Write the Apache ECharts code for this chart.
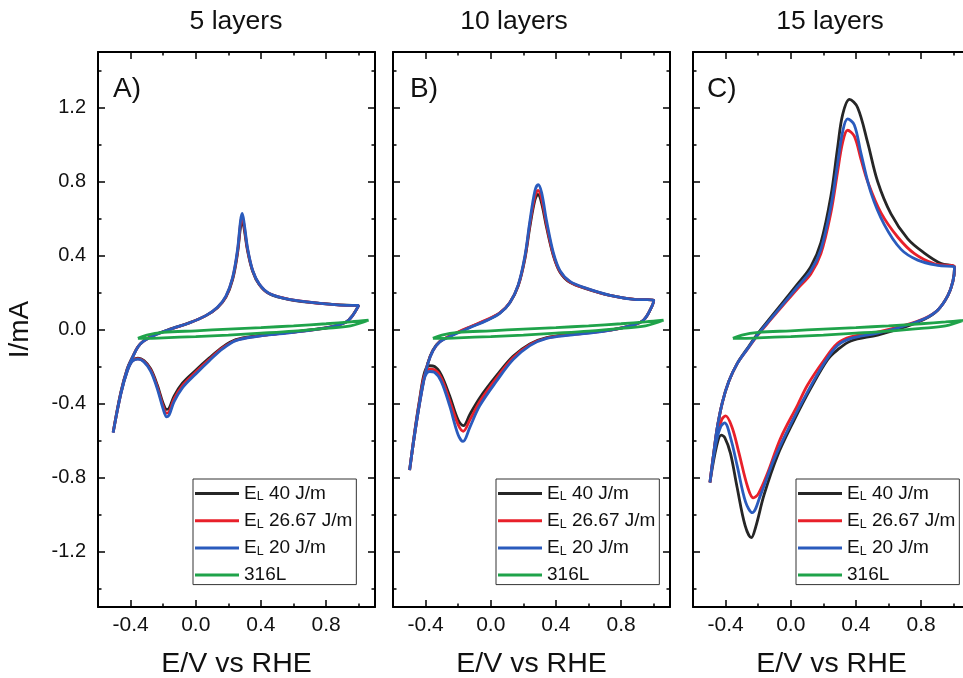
<!DOCTYPE html>
<html>
<head>
<meta charset="utf-8">
<script src="https://cdn.jsdelivr.net/npm/echarts@6/dist/echarts.min.js"></script>
<style>
  html, body { margin: 0; padding: 0; background: #fff; }
  #chart { width: 963px; height: 678px; }
</style>
</head>
<body>
<div id="chart"></div>
<script>
// ---- data ----
const panelTitles = ['5 layers', '10 layers', '15 layers'];
const panelLetters = ['A)', 'B)', 'C)'];
const seriesNames = ['E_L 40 J/m', 'E_L 26.67 J/m', 'E_L 20 J/m', '316L'];
const xMajorTicks = [-0.4, 0.0, 0.4, 0.8];
const xMinorTicks = [-0.2, 0.2, 0.6, 1.0];
const yMajorTicks = [-1.2, -0.8, -0.4, 0.0, 0.4, 0.8, 1.2];
const yMinorTicks = [-1.4, -1.0, -0.6, -0.2, 0.2, 0.6, 1.0, 1.4];

// 5 layers
const a40 = [[-0.507,-0.555],[-0.46,-0.34],[-0.42,-0.21],[-0.39,-0.152],[-0.355,-0.093],[-0.318,-0.06],[-0.25,-0.028],[-0.144,0.006],[-0.041,0.036],[0.062,0.075],[0.133,0.118],[0.185,0.175],[0.226,0.27],[0.256,0.41],[0.275,0.555],[0.285,0.585],[0.297,0.545],[0.318,0.425],[0.349,0.315],[0.39,0.242],[0.451,0.193],[0.574,0.162],[0.779,0.14],[0.96,0.13],[1.0,0.13],[0.964,0.078],[0.923,0.041],[0.82,0.013],[0.574,-0.016],[0.369,-0.035],[0.246,-0.055],[0.164,-0.095],[0.082,-0.155],[0.0,-0.22],[-0.082,-0.29],[-0.133,-0.36],[-0.163,-0.425],[-0.178,-0.432],[-0.2,-0.4],[-0.236,-0.3],[-0.277,-0.212],[-0.318,-0.168],[-0.355,-0.155],[-0.39,-0.168],[-0.42,-0.22],[-0.46,-0.345],[-0.507,-0.555]];
const a26 = [[-0.507,-0.557],[-0.46,-0.343],[-0.42,-0.213],[-0.39,-0.154],[-0.355,-0.094],[-0.318,-0.061],[-0.25,-0.029],[-0.144,0.005],[-0.041,0.035],[0.062,0.075],[0.133,0.119],[0.185,0.178],[0.226,0.276],[0.256,0.42],[0.275,0.575],[0.285,0.608],[0.297,0.56],[0.318,0.432],[0.349,0.318],[0.39,0.244],[0.451,0.194],[0.574,0.163],[0.779,0.14],[0.96,0.13],[1.0,0.13],[0.964,0.077],[0.923,0.04],[0.82,0.012],[0.574,-0.017],[0.369,-0.037],[0.246,-0.058],[0.164,-0.1],[0.082,-0.163],[0.0,-0.23],[-0.082,-0.303],[-0.133,-0.375],[-0.164,-0.445],[-0.179,-0.452],[-0.2,-0.415],[-0.236,-0.31],[-0.277,-0.218],[-0.318,-0.172],[-0.355,-0.158],[-0.39,-0.17],[-0.42,-0.222],[-0.46,-0.347],[-0.507,-0.557]];
const a20 = [[-0.507,-0.558],[-0.46,-0.345],[-0.42,-0.215],[-0.39,-0.155],[-0.355,-0.095],[-0.318,-0.062],[-0.25,-0.03],[-0.144,0.005],[-0.041,0.035],[0.062,0.075],[0.133,0.12],[0.185,0.18],[0.226,0.28],[0.256,0.43],[0.275,0.59],[0.285,0.628],[0.297,0.575],[0.318,0.44],[0.349,0.32],[0.39,0.245],[0.451,0.195],[0.574,0.163],[0.779,0.14],[0.96,0.13],[1.0,0.13],[0.964,0.077],[0.923,0.04],[0.82,0.012],[0.574,-0.018],[0.369,-0.038],[0.246,-0.06],[0.164,-0.105],[0.082,-0.17],[0.0,-0.24],[-0.082,-0.315],[-0.133,-0.39],[-0.163,-0.462],[-0.178,-0.472],[-0.2,-0.43],[-0.236,-0.32],[-0.277,-0.225],[-0.318,-0.175],[-0.355,-0.16],[-0.39,-0.172],[-0.42,-0.225],[-0.46,-0.35],[-0.507,-0.558]];

// 10 layers
const b40 = [[-0.498,-0.76],[-0.457,-0.505],[-0.416,-0.292],[-0.386,-0.18],[-0.355,-0.112],[-0.314,-0.066],[-0.232,-0.028],[-0.129,0.012],[-0.027,0.05],[0.055,0.088],[0.117,0.145],[0.168,0.235],[0.209,0.38],[0.24,0.555],[0.271,0.7],[0.289,0.73],[0.31,0.69],[0.343,0.55],[0.384,0.4],[0.425,0.31],[0.486,0.255],[0.589,0.22],[0.732,0.184],[0.896,0.162],[1.0,0.16],[0.989,0.125],[0.937,0.05],[0.855,0.02],[0.691,-0.008],[0.486,-0.027],[0.343,-0.044],[0.24,-0.078],[0.137,-0.145],[0.035,-0.25],[-0.068,-0.37],[-0.129,-0.46],[-0.168,-0.52],[-0.2,-0.49],[-0.252,-0.36],[-0.304,-0.245],[-0.345,-0.2],[-0.375,-0.196],[-0.406,-0.23],[-0.437,-0.38],[-0.468,-0.56],[-0.498,-0.76]];
const b26 = [[-0.498,-0.76],[-0.457,-0.508],[-0.416,-0.296],[-0.386,-0.183],[-0.355,-0.114],[-0.314,-0.067],[-0.232,-0.027],[-0.129,0.014],[-0.027,0.052],[0.055,0.09],[0.117,0.146],[0.168,0.237],[0.209,0.387],[0.24,0.57],[0.271,0.72],[0.29,0.752],[0.311,0.71],[0.343,0.565],[0.384,0.405],[0.425,0.313],[0.486,0.257],[0.589,0.221],[0.732,0.184],[0.896,0.162],[1.0,0.16],[0.989,0.125],[0.937,0.05],[0.855,0.02],[0.691,-0.009],[0.486,-0.028],[0.343,-0.046],[0.24,-0.082],[0.137,-0.153],[0.035,-0.263],[-0.068,-0.39],[-0.129,-0.49],[-0.169,-0.55],[-0.2,-0.515],[-0.252,-0.385],[-0.304,-0.262],[-0.345,-0.218],[-0.375,-0.214],[-0.406,-0.245],[-0.437,-0.387],[-0.468,-0.563],[-0.498,-0.76]];
const b20 = [[-0.498,-0.76],[-0.457,-0.51],[-0.416,-0.3],[-0.386,-0.185],[-0.355,-0.115],[-0.314,-0.068],[-0.232,-0.03],[-0.129,0.01],[-0.027,0.048],[0.055,0.087],[0.117,0.145],[0.168,0.24],[0.209,0.395],[0.24,0.585],[0.271,0.75],[0.291,0.783],[0.312,0.74],[0.343,0.585],[0.384,0.415],[0.425,0.318],[0.486,0.26],[0.589,0.222],[0.732,0.185],[0.896,0.162],[1.0,0.16],[0.989,0.125],[0.937,0.05],[0.855,0.02],[0.691,-0.01],[0.486,-0.03],[0.343,-0.048],[0.24,-0.087],[0.137,-0.163],[0.035,-0.28],[-0.068,-0.413],[-0.129,-0.53],[-0.17,-0.605],[-0.201,-0.567],[-0.252,-0.413],[-0.304,-0.28],[-0.345,-0.232],[-0.375,-0.227],[-0.406,-0.26],[-0.437,-0.394],[-0.468,-0.567],[-0.498,-0.76]];

// 15 layers
const c40 = [[-0.496,-0.827],[-0.472,-0.663],[-0.451,-0.53],[-0.42,-0.395],[-0.38,-0.28],[-0.328,-0.183],[-0.267,-0.103],[-0.205,-0.025],[-0.123,0.065],[-0.041,0.155],[0.041,0.245],[0.123,0.34],[0.185,0.47],[0.246,0.72],[0.287,0.98],[0.318,1.16],[0.36,1.244],[0.41,1.2],[0.472,1.01],[0.533,0.8],[0.615,0.625],[0.718,0.49],[0.82,0.413],[0.923,0.356],[1.005,0.337],[0.995,0.26],[0.964,0.183],[0.903,0.106],[0.82,0.055],[0.697,0.012],[0.533,-0.03],[0.369,-0.062],[0.287,-0.11],[0.226,-0.163],[0.123,-0.317],[0.021,-0.49],[-0.082,-0.683],[-0.164,-0.894],[-0.215,-1.067],[-0.242,-1.125],[-0.28,-1.06],[-0.33,-0.85],[-0.37,-0.67],[-0.405,-0.585],[-0.427,-0.571],[-0.455,-0.63],[-0.496,-0.827]];
const c26 = [[-0.496,-0.827],[-0.472,-0.663],[-0.451,-0.53],[-0.42,-0.395],[-0.38,-0.28],[-0.328,-0.183],[-0.267,-0.108],[-0.205,-0.033],[-0.123,0.053],[-0.041,0.137],[0.041,0.22],[0.123,0.3],[0.185,0.41],[0.246,0.63],[0.287,0.85],[0.318,1.01],[0.349,1.077],[0.39,1.045],[0.431,0.92],[0.472,0.8],[0.554,0.63],[0.656,0.5],[0.759,0.41],[0.882,0.355],[1.005,0.337],[0.995,0.26],[0.964,0.183],[0.903,0.106],[0.82,0.06],[0.697,0.022],[0.533,-0.014],[0.369,-0.04],[0.287,-0.075],[0.205,-0.165],[0.103,-0.3],[0.041,-0.41],[-0.062,-0.587],[-0.144,-0.78],[-0.2,-0.89],[-0.23,-0.91],[-0.265,-0.85],[-0.32,-0.66],[-0.36,-0.53],[-0.4,-0.467],[-0.425,-0.49],[-0.46,-0.6],[-0.496,-0.827]];
const c20 = [[-0.496,-0.827],[-0.472,-0.663],[-0.451,-0.53],[-0.42,-0.395],[-0.38,-0.28],[-0.328,-0.183],[-0.267,-0.106],[-0.205,-0.03],[-0.123,0.058],[-0.041,0.144],[0.041,0.231],[0.123,0.317],[0.185,0.433],[0.246,0.663],[0.287,0.894],[0.318,1.067],[0.349,1.138],[0.39,1.106],[0.431,0.952],[0.492,0.74],[0.574,0.567],[0.677,0.433],[0.779,0.375],[0.903,0.346],[1.005,0.337],[0.995,0.26],[0.964,0.183],[0.903,0.106],[0.82,0.058],[0.697,0.019],[0.533,-0.019],[0.369,-0.048],[0.287,-0.087],[0.205,-0.183],[0.103,-0.337],[0.0,-0.51],[-0.103,-0.702],[-0.185,-0.894],[-0.236,-0.99],[-0.277,-0.933],[-0.328,-0.74],[-0.369,-0.587],[-0.406,-0.505],[-0.43,-0.525],[-0.46,-0.62],[-0.496,-0.827]];

// bare 316L substrate (same in every panel)
const ss316 = [[-0.355,-0.048],[-0.3,-0.03],[-0.2,-0.016],[0.0,-0.007],[0.2,0.002],[0.4,0.01],[0.6,0.02],[0.8,0.031],[0.95,0.041],[1.06,0.05],[0.95,0.02],[0.8,0.006],[0.6,-0.009],[0.4,-0.02],[0.2,-0.03],[0.0,-0.038],[-0.2,-0.045],[-0.3,-0.048],[-0.355,-0.048]];

const panelCurves = [
  [a40, a26, a20, ss316],
  [b40, b26, b20, ss316],
  [c40, c26, c20, ss316]
];

// ---- layout / style ----
const FONT = '"Liberation Sans", Arial, sans-serif';
const colors = ['#262626', '#e8202a', '#2a5bbd', '#1fa34a'];
const gridLeft = [98, 393, 693];
const gridTop = 52, gridW = 277, gridH = 555;
const legendLeft = [193, 496, 796];
const letterX = [113, 410, 707];
const titleX = [236, 514, 830];

const chart = echarts.init(document.getElementById('chart'), null, {renderer: 'canvas'});

const axisLine = {show: true, onZero: false, lineStyle: {color: '#000', width: 2}};
const noLine = {show: false, onZero: false};
const tick = (vals, len) => ({show: true, inside: true, length: len, customValues: vals, lineStyle: {color: '#000', width: 1.5}});

const xAxis = [], yAxis = [], grid = [], series = [], legend = [], graphic = [];

[0, 1, 2].forEach(i => {
  grid.push({left: gridLeft[i], top: gridTop, width: gridW, height: gridH, outerBoundsMode: 'none', containLabel: false});

  const xb = {type: 'value', gridIndex: i, min: -0.6, max: 1.1, splitLine: {show: false}};
  xAxis.push(Object.assign({}, xb, {
    position: 'bottom', axisLine: axisLine, axisTick: tick(xMajorTicks, 7),
    axisLabel: {show: true, customValues: xMajorTicks, formatter: v => v.toFixed(1), fontSize: 21, color: '#111', fontFamily: FONT, margin: 8},
    name: 'E/V vs RHE', nameLocation: 'middle', nameGap: 43,
    nameTextStyle: {fontSize: 28.5, color: '#111', fontFamily: FONT}
  }));
  xAxis.push(Object.assign({}, xb, {position: 'bottom', axisLine: noLine, axisTick: tick(xMinorTicks, 3.5), axisLabel: {show: false}}));
  xAxis.push(Object.assign({}, xb, {position: 'top', axisLine: axisLine, axisTick: tick(xMajorTicks, 7), axisLabel: {show: false}}));
  xAxis.push(Object.assign({}, xb, {position: 'top', axisLine: noLine, axisTick: tick(xMinorTicks, 3.5), axisLabel: {show: false}}));

  const yb = {type: 'value', gridIndex: i, min: -1.5, max: 1.5, splitLine: {show: false}};
  const yMain = Object.assign({}, yb, {
    position: 'left', axisLine: axisLine, axisTick: tick(yMajorTicks, 7),
    axisLabel: {show: i === 0, customValues: yMajorTicks, formatter: v => v.toFixed(1), fontSize: 20, color: '#111', fontFamily: FONT, margin: 12}
  });
  if (i === 0) {
    Object.assign(yMain, {name: 'I/mA', nameLocation: 'middle', nameGap: 64,
      nameTextStyle: {fontSize: 28, color: '#111', fontFamily: FONT}});
  }
  yAxis.push(yMain);
  yAxis.push(Object.assign({}, yb, {position: 'left', axisLine: noLine, axisTick: tick(yMinorTicks, 3.5), axisLabel: {show: false}}));
  yAxis.push(Object.assign({}, yb, {position: 'right', axisLine: axisLine, axisTick: tick(yMajorTicks, 7), axisLabel: {show: false}}));
  yAxis.push(Object.assign({}, yb, {position: 'right', axisLine: noLine, axisTick: tick(yMinorTicks, 3.5), axisLabel: {show: false}}));

  panelCurves[i].forEach((pts, k) => {
    series.push({
      type: 'line', name: seriesNames[k], data: pts,
      xAxisIndex: 4 * i, yAxisIndex: 4 * i,
      symbol: 'none', smooth: 0.35, clip: true,
      color: colors[k],
      lineStyle: {color: colors[k], width: 2.8},
      z: 2 + k
    });
  });

  legend.push({
    data: seriesNames, orient: 'vertical', left: legendLeft[i], top: 479,
    icon: 'rect', itemWidth: 44, itemHeight: 3, itemGap: 7.7, padding: [5, 4, 0, 2],
    borderColor: '#333', borderWidth: 1, backgroundColor: 'transparent',
    selectedMode: false,
    formatter: name => name.startsWith('E_L')
      ? '{n|E}{s|L}{n|' + name.slice(3) + '}'
      : '{n|' + name + '}',
    textStyle: {
      color: '#111', fontFamily: FONT, fontSize: 19,
      rich: {
        n: {fontSize: 19, fontFamily: FONT, color: '#111', lineHeight: 20},
        s: {fontSize: 12.5, fontFamily: FONT, color: '#111', lineHeight: 8, verticalAlign: 'bottom'}
      }
    }
  });

  graphic.push({
    type: 'text', x: titleX[i], y: 22,
    style: {text: panelTitles[i], font: '26.5px ' + FONT, fill: '#111', textAlign: 'center', textVerticalAlign: 'middle'}
  });
  graphic.push({
    type: 'text', x: letterX[i], y: 89,
    style: {text: panelLetters[i], font: '28px ' + FONT, fill: '#111', textAlign: 'left', textVerticalAlign: 'middle'}
  });
});

chart.setOption({
  backgroundColor: '#fff',
  animation: false,
  grid: grid,
  xAxis: xAxis,
  yAxis: yAxis,
  legend: legend,
  graphic: graphic,
  series: series
});
</script>
</body>
</html>
